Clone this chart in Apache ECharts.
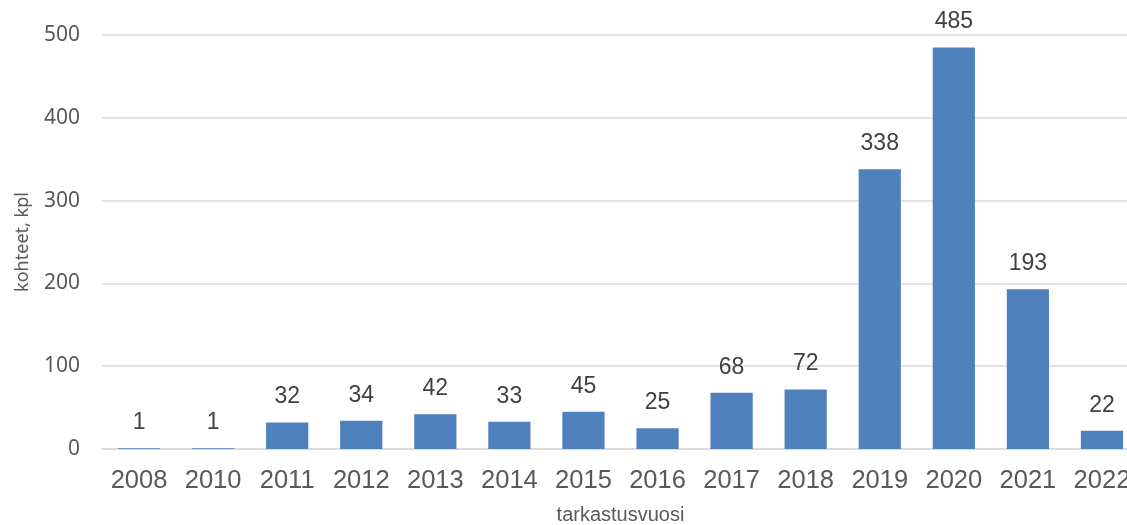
<!DOCTYPE html>
<html>
<head>
<meta charset="utf-8">
<script src="https://cdn.jsdelivr.net/npm/echarts@6/dist/echarts.min.js"></script>
<style>
html,body{margin:0;padding:0;background:#fff;}
#chart{width:1127px;height:525px;}
</style>
</head>
<body>
<div id="chart"></div>
<script>
const categories = ['2008','2010','2011','2012','2013','2014','2015','2016','2017','2018','2019','2020','2021','2022'];
const values = [1,1,32,34,42,33,45,25,68,72,338,485,193,22];
const yTicks = [0,100,200,300,400,500];

const chart = echarts.init(document.getElementById('chart'));
chart.setOption({
  animation: false,
  grid: {left: 102, top: 35, width: 1037, height: 414, containLabel: false, outerBoundsMode: 'none'},
  xAxis: {
    type: 'category',
    data: categories,
    name: 'tarkastusvuosi',
    nameLocation: 'middle',
    nameGap: 56,
    nameTextStyle: {fontFamily: 'Liberation Sans', fontSize: 20, color: '#595959'},
    axisLine: {show: true, lineStyle: {color: '#d9d9d9', width: 1.5}},
    axisTick: {show: false},
    axisLabel: {fontFamily: 'Liberation Sans', fontSize: 25.5, color: '#595959', margin: 19, interval: 0}
  },
  yAxis: {
    type: 'value',
    min: yTicks[0],
    max: yTicks[yTicks.length - 1],
    interval: 100,
    name: 'kohteet, kpl',
    nameLocation: 'middle',
    nameGap: 70,
    nameTextStyle: {fontFamily: 'Noto Sans', fontSize: 18, color: '#595959'},
    axisLine: {show: false},
    axisTick: {show: false},
    axisLabel: {fontFamily: 'Noto Sans', fontSize: 21, color: '#595959', margin: 22},
    splitLine: {lineStyle: {color: '#d9d9d9', width: 1.5}}
  },
  series: [{
    type: 'bar',
    data: values,
    barWidth: '57%',
    itemStyle: {color: '#4f81bd'},
    label: {
      show: true,
      position: 'top',
      distance: 14,
      fontFamily: 'Liberation Sans',
      fontSize: 23,
      color: '#404040'
    }
  }]
});
</script>
</body>
</html>
